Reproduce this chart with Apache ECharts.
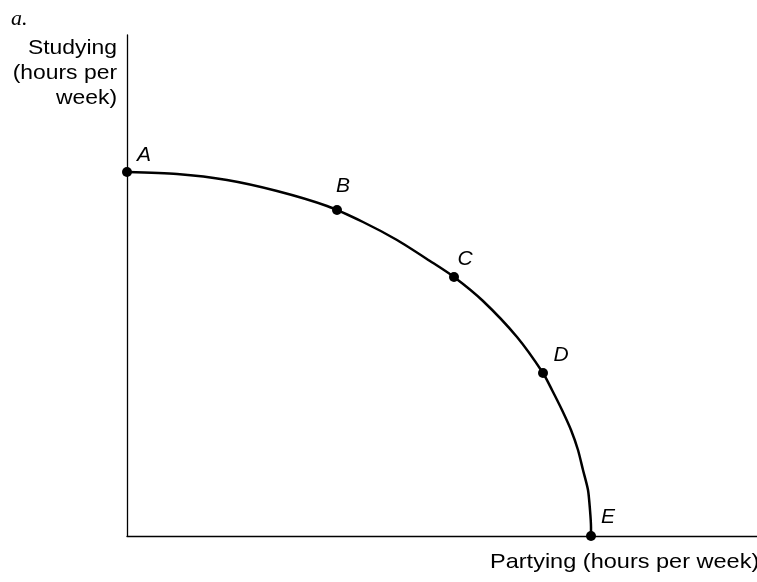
<!DOCTYPE html>
<html>
<head>
<meta charset="utf-8">
<script src="https://cdn.jsdelivr.net/npm/echarts@6/dist/echarts.min.js"></script>
<style>
  html, body { margin: 0; padding: 0; background: #fff; }
  #chart { width: 757px; height: 582px; }
</style>
</head>
<body>
<div id="chart"></div>
<script>
// curve (x = partying, y = studying, arbitrary units)
var curveX = [0, 50, 100, 150, 200, 236, 270, 303, 327, 356, 390, 416, 425, 435, 444, 451, 456, 461, 463, 464, 464];
var curveY = [364, 362, 356, 345, 330, 314, 296, 275, 259, 235, 199, 163, 146, 126, 106, 86, 66, 46, 26, 9, 0];

// labelled points on the frontier
var pointNames = ['A', 'B', 'C', 'D', 'E'];
var pointX = [0, 210, 327, 416, 464];
var pointY = [364, 326, 259, 163, 0];
var labelOffsets = [[17, -17], [6, -24], [11, -18], [18, -18], [17, -19]];

var font = '"Liberation Sans", Arial, sans-serif';

var chart = echarts.init(document.getElementById('chart'));

var curveData = curveX.map(function (x, i) { return [x, curveY[i]]; });
var pointData = pointX.map(function (x, i) {
  return {
    value: [x, pointY[i]],
    label: { show: true, formatter: pointNames[i], offset: labelOffsets[i] }
  };
});

chart.setOption({
  animation: false,
  grid: { left: 127, right: 0, top: 35, bottom: 46 },
  xAxis: {
    type: 'value', min: 0, max: 630,
    axisLine: { show: true, lineStyle: { color: '#000', width: 1.3 } },
    axisTick: { show: false }, axisLabel: { show: false }, splitLine: { show: false }
  },
  yAxis: {
    type: 'value', min: 0, max: 501,
    axisLine: { show: true, lineStyle: { color: '#000', width: 1.3 } },
    axisTick: { show: false }, axisLabel: { show: false }, splitLine: { show: false }
  },
  series: [
    {
      type: 'line',
      data: curveData,
      smooth: 0.25,
      symbol: 'none',
      lineStyle: { color: '#000', width: 2.5, join: 'round' },
      z: 2
    },
    {
      type: 'scatter',
      data: pointData,
      symbolSize: 10,
      itemStyle: { color: '#000', opacity: 1 },
      label: {
        position: 'inside',
        color: '#000',
        fontStyle: 'italic',
        fontSize: 21,
        fontFamily: font
      },
      z: 3
    }
  ],
  graphic: [
    {
      type: 'text', x: 11, y: 8,
      style: { text: 'a.', font: 'italic 22px "Liberation Serif", serif', fill: '#000', verticalAlign: 'top' }
    },
    {
      type: 'text', x: 117, y: 36, scaleX: 1.09,
      style: {
        text: 'Studying\n(hours per\nweek)',
        align: 'right',
        verticalAlign: 'top',
        lineHeight: 25,
        font: '21px ' + font,
        fill: '#000'
      }
    },
    {
      type: 'text', x: 490, y: 552, scaleX: 1.12,
      style: {
        text: 'Partying (hours per week)',
        verticalAlign: 'top',
        font: '21px ' + font,
        fill: '#000'
      }
    }
  ]
});
</script>
</body>
</html>
